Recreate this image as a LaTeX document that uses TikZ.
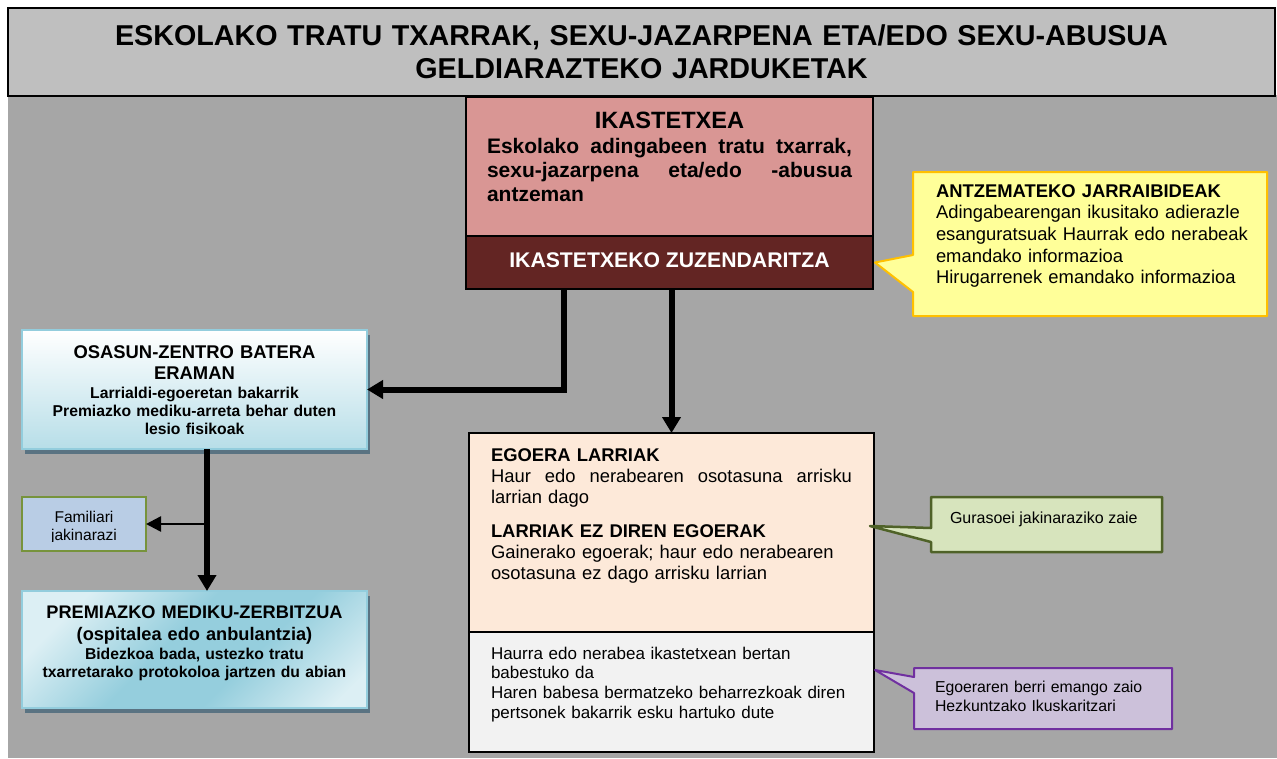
\documentclass[tikz,border=0pt]{standalone}
\usepackage{fontspec}
\setmainfont{Liberation Sans}
\usetikzlibrary{arrows.meta,shadows}
\definecolor{bggray}{HTML}{A6A6A6}
\definecolor{titlegray}{HTML}{BFBFBF}
\definecolor{pinkf}{HTML}{D99694}
\definecolor{maroonf}{HTML}{632523}
\definecolor{peachf}{HTML}{FDE9D9}
\definecolor{lightf}{HTML}{F2F2F2}
\definecolor{yellowf}{HTML}{FFFF99}
\definecolor{yellowd}{HTML}{FFC000}
\definecolor{greenf}{HTML}{D7E4BD}
\definecolor{greend}{HTML}{4F6228}
\definecolor{purplef}{HTML}{CCC1DA}
\definecolor{purpled}{HTML}{7030A0}
\definecolor{famf}{HTML}{B9CDE5}
\definecolor{famd}{HTML}{77933C}
\definecolor{osd}{HTML}{93CDDD}
\definecolor{osb}{HTML}{B7DEE8}
\definecolor{premA}{HTML}{DCEFF4}
\definecolor{premB}{HTML}{95CEDD}
\definecolor{shadowc}{HTML}{5A7382}
\pgfdeclarehorizontalshading{premsh}{100bp}{color(0bp)=(premA); color(25bp)=(premA); color(45bp)=(premB); color(60bp)=(premB); color(80bp)=(premA); color(100bp)=(premA)}
\newcommand\fsz[2]{\fontsize{#1}{#2}\selectfont}
\newcommand\jline[2]{\leavevmode\hbox to #1{#2}}
\tikzset{
  box/.style={draw=black, line width=2pt, inner sep=0pt, outer sep=0pt, anchor=north west},
  bluebox/.style={draw=osd, line width=2pt, inner sep=0pt, outer sep=0pt, anchor=north west,
    drop shadow={shadow xshift=3pt, shadow yshift=-5pt, fill=shadowc, opacity=1}},
  thickarrow/.style={line width=6pt, -{Triangle[length=16pt,width=18pt]}},
  thinarrow/.style={line width=2.5pt, -{Triangle[length=15pt,width=15pt]}},
  txt/.style={inner sep=0pt, outer sep=0pt, text=black},
}
\begin{document}
\begin{tikzpicture}[x=1pt,y=-1pt]
\useasboundingbox (0,0) rectangle (1277,758);
\fill[white] (0,0) rectangle (1277,758);
\fill[bggray] (8,95) rectangle (1277,758);
% title
\node[box, line width=1.5pt, fill=titlegray, minimum width=1267pt, minimum height=88pt] (title) at (8,8) {};
\node[txt, anchor=base, text width=1267pt, align=center, font=\fsz{28.7}{33}\bfseries] (titletxt) at (641.5,45)
  {ESKOLAKO TRATU TXARRAK, SEXU-JAZARPENA ETA/EDO SEXU-ABUSUA\\GELDIARAZTEKO JARDUKETAK};
% school boxes
\node[box, fill=pinkf, minimum width=407pt, minimum height=139pt] (ikas) at (466,97) {};
\node[box, fill=maroonf, minimum width=407pt, minimum height=53pt] (zuz) at (466,236) {};
% situations
\node[box, fill=peachf, minimum width=405pt, minimum height=199pt] (egoera) at (469,433) {};
\node[box, fill=lightf, minimum width=405pt, minimum height=120pt] (babes) at (469,632) {};
% left boxes
\node[bluebox, top color=white, bottom color=osb, minimum width=345pt, minimum height=119pt] (osasun) at (22,330) {};
\node[bluebox, shading=premsh, shading angle=-45, minimum width=345pt, minimum height=117pt] (prem) at (22,591) {};
\node[box, draw=famd, fill=famf, minimum width=124pt, minimum height=54pt] (fam) at (22,497) {};
% callouts
\filldraw[fill=yellowf, draw=yellowd, line width=2pt, line join=round]
  (913,172) -- (1267,172) -- (1267,316) -- (913,316) -- (913,292) -- ([xshift=2pt]zuz.east) -- (913,255) -- cycle;
\filldraw[fill=greenf, draw=greend, line width=2.5pt, line join=round]
  (931,497) -- (1162,497) -- (1162,552) -- (931,552) -- (931,542) -- ([xshift=-4pt,yshift=6.5pt]egoera.east) -- (931,528) -- cycle;
\filldraw[fill=purplef, draw=purpled, line width=2pt, line join=round]
  (914,668) -- (1172,668) -- (1172,729) -- (914,729) -- (914,693) -- ([xshift=1pt,yshift=-38pt]babes.north east) -- (914,677) -- cycle;
% arrows
\draw[thickarrow] ([xshift=-105.5pt]zuz.south) |- (osasun.east);
\draw[thickarrow] (egoera.north |- zuz.south) -- (egoera.north);
\coordinate (br) at ([xshift=12.5pt]osasun.south |- fam.east);
\draw[thinarrow] (br) -- (fam.east);
\draw[thickarrow] ([xshift=12.5pt]osasun.south) -- ([xshift=12.5pt]prem.north);
% texts
\node[txt, anchor=base, font=\fsz{23.6}{27}\bfseries] (ikashead) at (669.5,128) {IKASTETXEA};
\node[txt, anchor=base west, text width=365pt, align=left, font=\fsz{21}{24}\bfseries] (ikasbody) at (487,153)
  {\jline{365pt}{Eskolako\hfill adingabeen\hfill tratu\hfill txarrak,}\\\jline{365pt}{sexu-jazarpena\hfill eta/edo\hfill -abusua}\\antzeman};
\node[txt, anchor=base, text=white, font=\fsz{21.2}{24}\bfseries] (zuztxt) at (669.5,267) {IKASTETXEKO ZUZENDARITZA};
\node[txt, anchor=base west, text width=325pt, align=left, font=\fsz{18.4}{21.7}] (antztxt) at (936,197)
  {\textbf{ANTZEMATEKO JARRAIBIDEAK}\\Adingabearengan ikusitako adierazle\\esanguratsuak Haurrak edo nerabeak\\emandako informazioa\\Hirugarrenek emandako informazioa};
\node[txt, anchor=base west, text width=361pt, align=left, font=\fsz{18.4}{21}] (larri) at (491,461)
  {\textbf{EGOERA LARRIAK}\\\jline{361pt}{Haur\hfill edo\hfill nerabearen\hfill osotasuna\hfill arrisku}\\larrian dago};
\node[txt, anchor=base west, text width=361pt, align=left, font=\fsz{18.4}{21}] (ezlarri) at (491,537)
  {\textbf{LARRIAK EZ DIREN EGOERAK}\\Gainerako egoerak; haur edo nerabearen\\osotasuna ez dago arrisku larrian};
\node[txt, anchor=base west, text width=361pt, align=left, font=\fsz{17}{19.7}] (babestxt) at (491,659)
  {Haurra edo nerabea ikastetxean bertan\\babestuko da\\Haren babesa bermatzeko beharrezkoak diren\\pertsonek bakarrik esku hartuko dute};
\node[txt, anchor=base, text width=345pt, align=center, font=\fsz{18.4}{21}\bfseries] (ostitle) at (194.5,358) {OSASUN-ZENTRO BATERA\\ERAMAN};
\node[txt, anchor=base, text width=345pt, align=center, font=\fsz{15.7}{18}\bfseries] (osbody) at (194.5,398)
  {Larrialdi-egoeretan bakarrik\\Premiazko mediku-arreta behar duten\\lesio fisikoak};
\node[txt, anchor=base, text width=345pt, align=center, font=\fsz{18.2}{22}\bfseries] (premtitle) at (194.5,618)
  {PREMIAZKO MEDIKU-ZERBITZUA\\(ospitalea edo anbulantzia)};
\node[txt, anchor=base, text width=345pt, align=center, font=\fsz{15.7}{18}\bfseries] (prembody) at (194.5,659)
  {Bidezkoa bada, ustezko tratu\\txarretarako protokoloa jartzen du abian};
\begin{scope}
\clip (22,497) rectangle (146,541);
\node[txt, anchor=base, text width=124pt, align=center, font=\fsz{15.6}{18}] (famtxt) at (84,522) {Familiari\\jakinarazi};
\end{scope}
\node[txt, anchor=base west, font=\fsz{16}{19}] (gurtxt) at (950,523) {Gurasoei jakinaraziko zaie};
\node[txt, anchor=base west, text width=230pt, align=left, font=\fsz{15.8}{19}] (ikustxt) at (935,692)
  {Egoeraren berri emango zaio\\Hezkuntzako Ikuskaritzari};
\end{tikzpicture}
\end{document}
